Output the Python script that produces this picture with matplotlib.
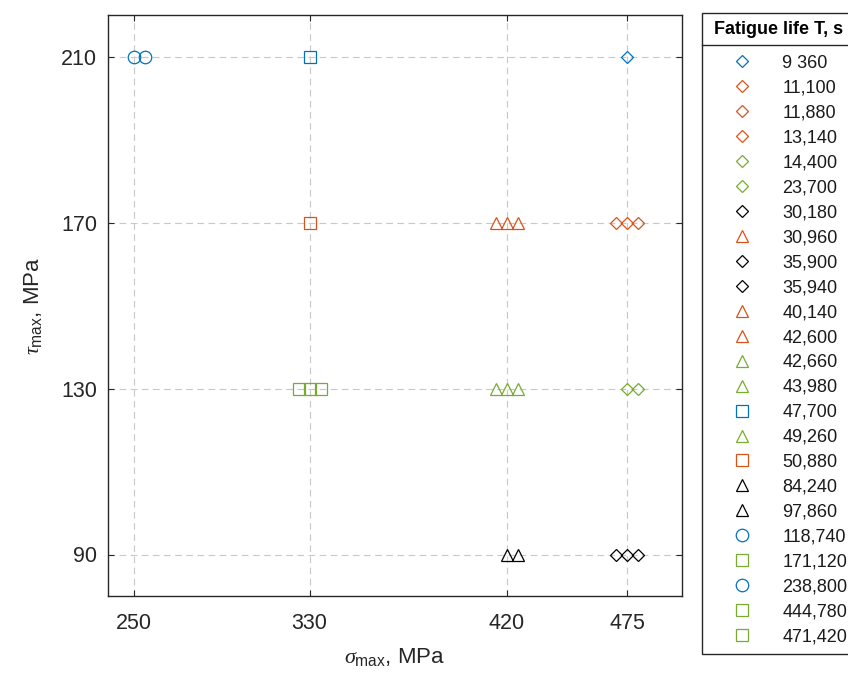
import matplotlib
matplotlib.use('Agg')
import matplotlib.pyplot as plt
from matplotlib.lines import Line2D

plt.rcParams['font.family'] = ['Liberation Sans', 'DejaVu Sans']
plt.rcParams['mathtext.fontset'] = 'custom'
plt.rcParams['mathtext.rm'] = 'Liberation Sans'
plt.rcParams['mathtext.it'] = 'Liberation Serif:italic'
plt.rcParams['mathtext.bf'] = 'Liberation Sans:bold'

# ---------------- data ----------------
life_labels = ['9 360', '11,100', '11,880', '13,140', '14,400', '23,700',
               '30,180', '30,960', '35,900', '35,940', '40,140', '42,600',
               '42,660', '43,980', '47,700', '49,260', '50,880', '84,240',
               '97,860', '118,740', '171,120', '238,800', '444,780', '471,420']
sigma_max = [475, 475, 475, 475, 475, 475,
             475, 420, 475, 475, 420, 420,
             420, 420, 330, 420, 330, 420,
             420, 250, 330, 250, 330, 330]
tau_max = [210, 170, 170, 170, 130, 130,
           90, 170, 90, 90, 170, 170,
           130, 130, 210, 130, 170, 90,
           90, 210, 130, 210, 130, 130]
shape = ['diamond', 'diamond', 'diamond', 'diamond', 'diamond', 'diamond',
         'diamond', 'triangle', 'diamond', 'diamond', 'triangle', 'triangle',
         'triangle', 'triangle', 'square', 'triangle', 'square', 'triangle',
         'triangle', 'circle', 'square', 'circle', 'square', 'square']
group = ['blue', 'orange', 'orange', 'orange', 'green', 'green',
         'black', 'orange', 'black', 'black', 'orange', 'orange',
         'green', 'green', 'blue', 'green', 'orange', 'black',
         'black', 'blue', 'green', 'blue', 'green', 'green']
sigma_ticks = [250, 330, 420, 475]
tau_ticks = [90, 130, 170, 210]

# ---------------- layout / style ----------------
# side-by-side display slot of coincident points (multiplied by JITTER)
slot = [0, -1, 0, 1, 0, 1,
        -1, -1, 0, 1, 0, 1,
        -1, 0, 0, 1, 0, 0,
        1, 0, -1, 1, 0, 1]
JITTER = 5

COLORS = {'blue': (0.0, 0.447, 0.741), 'orange': (0.85, 0.325, 0.098),
          'green': (0.466, 0.674, 0.188), 'black': (0.0, 0.0, 0.0)}
MARKERS = {'diamond': ('D', 6.2), 'triangle': ('^', 9), 'square': ('s', 8),
           'circle': ('o', 9)}
AXC = '#262626'

fig = plt.figure(figsize=(8.48, 6.77), dpi=100)
L, R, T, B = 108, 682, 15, 596
ax = fig.add_axes([L / 848, 1 - B / 677, (R - L) / 848, (B - T) / 677])

handles = []
for i, lab in enumerate(life_labels):
    m, ms = MARKERS[shape[i]]
    h, = ax.plot([sigma_max[i] + slot[i] * JITTER], [tau_max[i]],
                 linestyle='none', marker=m, markersize=ms,
                 markerfacecolor='none', markeredgecolor=COLORS[group[i]],
                 markeredgewidth=0.9, label=lab, zorder=3)
    handles.append(h)

ax.set_xlim(238, 500)
ax.set_ylim(80, 220)
ax.set_xticks(sigma_ticks)
ax.set_yticks(tau_ticks)
ax.grid(True, color='#c8c8c8', linestyle=(0, (6, 4)), linewidth=0.8)
ax.set_axisbelow(True)
for s in ax.spines.values():
    s.set_color(AXC)
    s.set_linewidth(1.0)
ax.tick_params(direction='in', length=4, width=0.8, top=True, right=True,
               labelsize=15.5, colors=AXC, labelcolor=AXC)
ax.tick_params(axis='x', pad=12)
ax.tick_params(axis='y', pad=8)
ax.set_xlabel(r'$\sigma_{\rm max}$, MPa', fontsize=16, color=AXC, labelpad=9)
ax.set_ylabel(r'$\tau_{\rm max}$, MPa', fontsize=16, color=AXC, labelpad=12)

leg = fig.legend(handles, life_labels, loc='upper left',
                 bbox_to_anchor=(702 / 848, 1 - 13 / 677),
                 bbox_transform=fig.transFigure, fontsize=13,
                 title='Fatigue life T, s',
                 title_fontproperties={'weight': 'bold', 'size': 13},
                 frameon=True, fancybox=False, framealpha=1,
                 edgecolor=AXC, borderpad=0.45, labelspacing=0.44,
                 handlelength=3.5, handletextpad=0.5, borderaxespad=0)
leg.get_frame().set_linewidth(1.0)
for t in leg.get_texts():
    t.set_color('#1a1a1a')
leg._legend_box.sep = 11.9

fig.canvas.draw()
r = fig.canvas.get_renderer()
tb = leg.get_title().get_window_extent(r)
fb = leg.get_texts()[0].get_window_extent(r)
fr = leg.get_frame().get_window_extent(r)
ysep = (tb.y0 + fb.y1) / 2 + 1
fig.add_artist(Line2D([fr.x0 / 848, fr.x1 / 848], [ysep / 677, ysep / 677],
                      transform=fig.transFigure, color=AXC, linewidth=1.0,
                      zorder=10))

fig.savefig('out.png', dpi=100)
